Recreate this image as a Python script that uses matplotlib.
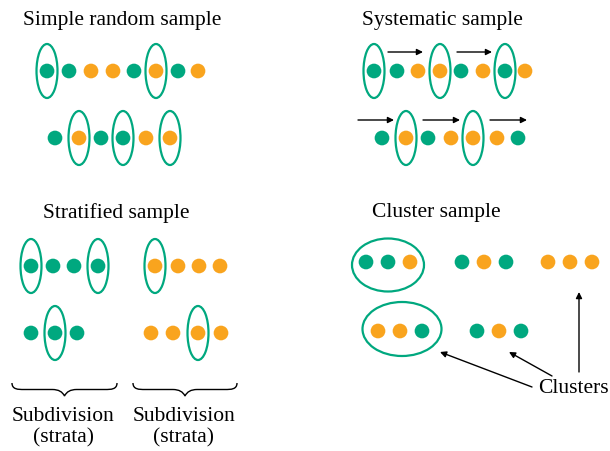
import matplotlib.pyplot as plt
from matplotlib.patches import Ellipse, PathPatch
from matplotlib.path import Path

GREEN = '#00a87f'
ORANGE = '#f9a41e'
COL = {'G': GREEN, 'O': ORANGE}

plt.rcParams['font.family'] = ['Liberation Serif', 'DejaVu Serif']

# --- data (pixel positions in the 610x452 canvas) ---
# simple random sample
srs_row1_x = [47, 69, 91, 113, 134, 156, 178, 198]
srs_row1_c = 'GGOOGOGO'
srs_row1_pick = [0, 5]
srs_row2_x = [55, 79, 101, 123, 146, 170]
srs_row2_c = 'GOGGOO'
srs_row2_pick = [1, 3, 5]

# systematic sample
sys_row1_x = [374, 397, 418, 440, 461, 483, 505, 525]
sys_row1_c = 'GGOOGOGO'
sys_row1_pick = [0, 3, 6]
sys_row2_x = [382, 406, 428, 451, 473, 497, 518]
sys_row2_c = 'GOGOOOG'
sys_row2_pick = [1, 4]
sys_arrows1 = [(388, 423), (457, 492)]
sys_arrows2 = [(358, 394), (423, 460), (490, 527)]

# stratified sample
str_row1_x = [31, 53, 74, 98, 155, 178, 199, 220]
str_row1_c = 'GGGGOOOO'
str_row1_pick = [0, 3, 4]
str_row2_x = [31, 55, 77, 151, 173, 198, 221]
str_row2_c = 'GGGOOOO'
str_row2_pick = [1, 5]

# cluster sample
clu_row1_x = [366, 388, 410, 462, 484, 506, 548, 570, 592]
clu_row1_c = 'GGOGOGOOO'
clu_row2_x = [378, 400, 422, 477, 499, 521]
clu_row2_c = 'OOGGOG'

fig = plt.figure(figsize=(6.1, 4.52), dpi=100)
ax = fig.add_axes([0, 0, 1, 1])
ax.set_xlim(0, 610)
ax.set_ylim(452, 0)
ax.axis('off')


def dots(xs, cols, y, picks=()):
    ax.scatter(xs, [y] * len(xs), s=112, c=[COL[c] for c in cols],
               linewidths=0, zorder=3)
    for i in picks:
        ax.add_patch(Ellipse((xs[i], y), 21, 54, fill=False,
                             edgecolor=GREEN, lw=1.6, zorder=4))


def arrow(x0, y0, x1, y1):
    ax.annotate('', xy=(x1, y1), xytext=(x0, y0),
                arrowprops=dict(arrowstyle='-|>', color='black', lw=1,
                                mutation_scale=9, shrinkA=0, shrinkB=0))


def brace(x0, x1, y, d=13):
    xm = (x0 + x1) / 2
    q = d / 2
    verts = [(x0, y), (x0, y + q), (x0 + 6, y + q), (x0 + 12, y + q),
             (xm - 12, y + q), (xm - 3, y + q), (xm, y + d),
             (xm + 3, y + q), (xm + 12, y + q),
             (x1 - 12, y + q), (x1 - 6, y + q), (x1, y + q), (x1, y)]
    codes = [Path.MOVETO, Path.CURVE4, Path.CURVE4, Path.CURVE4,
             Path.LINETO, Path.CURVE3, Path.CURVE3,
             Path.CURVE3, Path.CURVE3,
             Path.LINETO, Path.CURVE4, Path.CURVE4, Path.CURVE4]
    ax.add_patch(PathPatch(Path(verts, codes), fill=False, lw=1, color='black'))


fs = 15.5
ax.text(23, 20, 'Simple random sample', fontsize=fs, va='center')
ax.text(362, 20, 'Systematic sample', fontsize=fs, va='center')
ax.text(43, 213, 'Stratified sample', fontsize=fs, va='center')
ax.text(372, 213, 'Cluster sample', fontsize=fs, va='center')

dots(srs_row1_x, srs_row1_c, 72, srs_row1_pick)
dots(srs_row2_x, srs_row2_c, 139, srs_row2_pick)

dots(sys_row1_x, sys_row1_c, 72, sys_row1_pick)
dots(sys_row2_x, sys_row2_c, 139, sys_row2_pick)
for a, b in sys_arrows1:
    arrow(a, 53, b, 53)
for a, b in sys_arrows2:
    arrow(a, 121, b, 121)

dots(str_row1_x, str_row1_c, 267, str_row1_pick)
dots(str_row2_x, str_row2_c, 334, str_row2_pick)
brace(12, 117, 384)
brace(133, 237, 384)
for xc in (63, 184):
    ax.text(xc, 417, 'Subdivision', fontsize=fs, ha='center', va='center')
    ax.text(xc, 438, '(strata)', fontsize=fs, ha='center', va='center')

dots(clu_row1_x, clu_row1_c, 263)
dots(clu_row2_x, clu_row2_c, 332)
ax.add_patch(Ellipse((388, 266), 72, 53, fill=False, edgecolor=GREEN, lw=1.6))
ax.add_patch(Ellipse((402, 330), 79, 54, fill=False, edgecolor=GREEN, lw=1.6))
ax.text(573, 389, 'Clusters', fontsize=fs, ha='center', va='center')
arrow(532, 388, 440, 353)
arrow(552, 377, 509, 353)
arrow(579, 373, 579, 293)

fig.savefig('out.png', dpi=100)
